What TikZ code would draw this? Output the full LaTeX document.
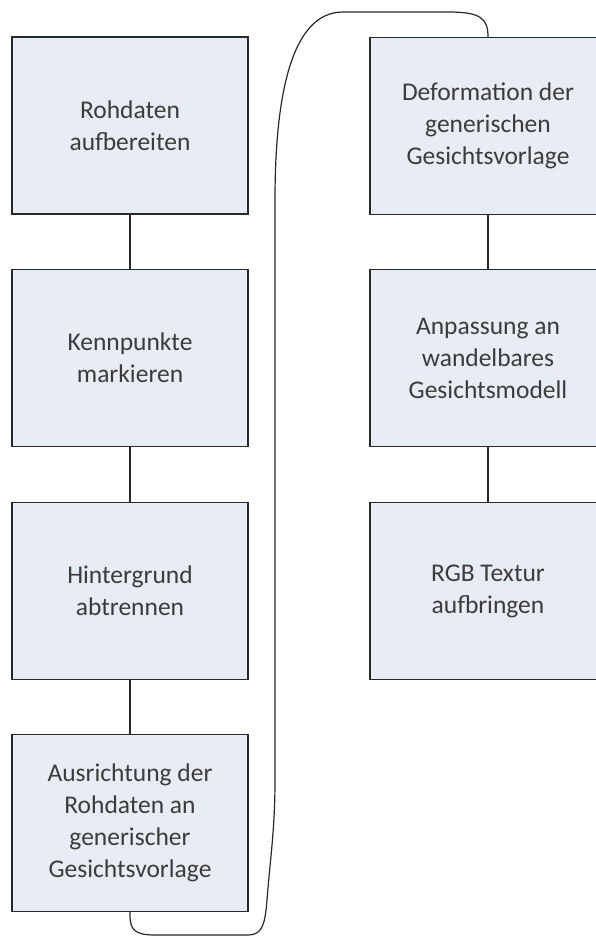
\documentclass[tikz,border=0pt]{standalone}
\usepackage{fontspec}
\setmainfont{Carlito}
\begin{document}
\definecolor{boxfill}{RGB}{232,236,244}
\definecolor{boxline}{RGB}{40,40,40}
\definecolor{txt}{RGB}{60,60,60}
\begin{tikzpicture}[x=1pt,y=-1pt,
  stepbox/.style={draw=boxline,fill=boxfill,line width=1.3pt,
    minimum width=236pt,minimum height=177pt,inner sep=0pt,
    text=txt,align=center,font=\fontsize{25.5}{32}\selectfont},
  link/.style={draw=boxline,line width=1.2pt}]
\useasboundingbox (0,0) rectangle (595,937);
% left column
\node[stepbox] (a) at (130,125.5) {Rohdaten\\aufbereiten};
\node[stepbox] (b) at (130,358) {Kennpunkte\\markieren};
\node[stepbox] (c) at (130,591) {Hintergrund\\abtrennen};
\node[stepbox] (d) at (130,823) {Ausrichtung der\\Rohdaten an\\generischer\\Gesichtsvorlage};
% right column
\node[stepbox] (e) at (488,126) {Deformation der\\generischen\\Gesichtsvorlage};
\node[stepbox] (f) at (488,358) {Anpassung an\\wandelbares\\Gesichtsmodell};
\node[stepbox] (g) at (488,591) {RGB Textur\\aufbringen};
% connectors within the columns
\draw[link] (a) -- (b);
\draw[link] (b) -- (c);
\draw[link] (c) -- (d);
\draw[link] (e) -- (f);
\draw[link] (f) -- (g);
% loop from the bottom of the left column to the top of the right one
\coordinate (lowL) at (155,935);
\coordinate (lowR) at (248,935);
\coordinate (upL) at (343,12);
\coordinate (upR) at (448,12);
\draw[link] (d.south) -- (130,915) .. controls (130,930) and (135,935) .. (lowL)
  -- (lowR) .. controls (262,935) and (265,925) .. (267,900)
  .. controls (270,860) and (275,830) .. (275,780)
  -- (275,200) .. controls (275,100) and (290,12) .. (upL)
  -- (upR) .. controls (480,12) and (488,18) .. (e.north);
\end{tikzpicture}
\end{document}
